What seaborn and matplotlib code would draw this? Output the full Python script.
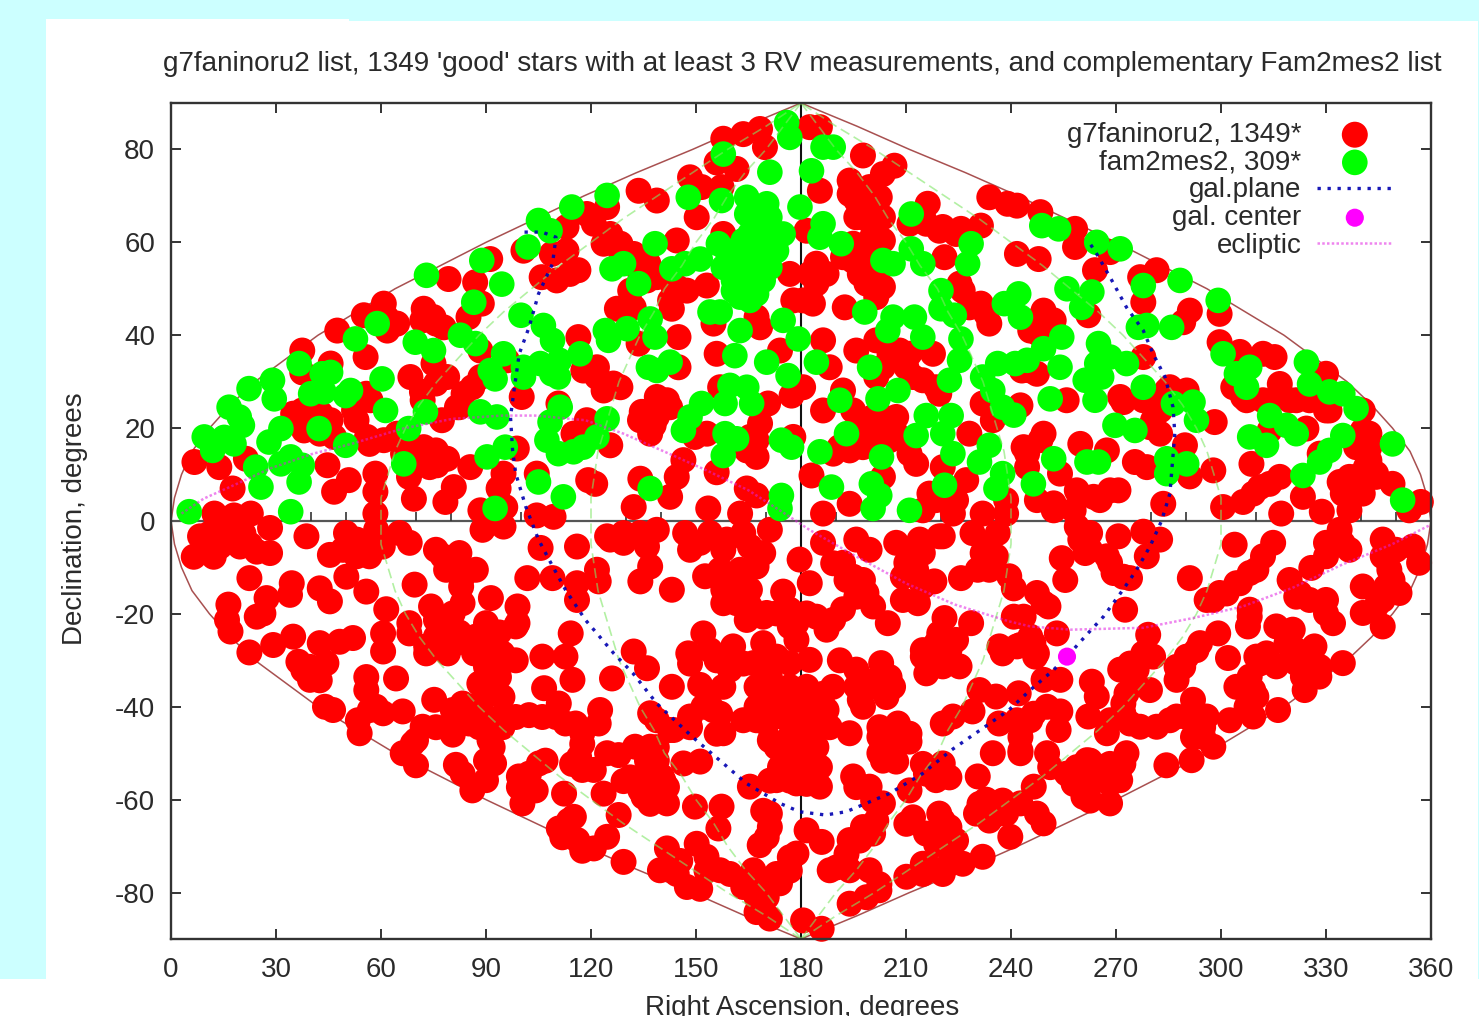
import numpy as np
import pandas as pd
import matplotlib
matplotlib.use("Agg")
import matplotlib.pyplot as plt
from matplotlib.patches import Rectangle
import seaborn as sns

title = "g7faninoru2 list, 1349 'good' stars with at least 3 RV measurements, and complementary Fam2mes2 list"
xticks = list(range(0, 361, 30))
yticks = list(range(-80, 81, 20))
zero_ticks = [r for r in range(10, 360, 10) if r % 30]

green_nw = [(114.5,67.6),(105,64.7),(108.3,62.5),(102,59),(88.8,56.1),(73,52.9),(94.5,51),(86.5,47.1),(100,44.3),(106.4,42.1),(109,38.9),(58.9,42.5),(52.7,39.2),(69.8,38.5),(75,36.7),(82.7,40),(87,38.2),(95,36),(91.2,32.4),(92.6,30.6),(100.7,33.1),(100.7,31),(105.5,33.9),(108.8,31.7),(110.7,31),(111,34.6),(116.9,36),(36.6,33.9),(45.6,32),(43.2,31.7),(29,30.3),(29.5,26.3),(22.3,28.5),(39.9,27.4),(43.7,27.8),(51.3,28.1),(49.9,27),(60.3,30.6),(61.3,23.8),(72.7,23.5),(88.4,23.5),(93.1,22.4),(111.2,24.5),(108.3,21.3),(67.9,19.9),(42.3,19.9),(16.6,24.5),(19.5,22.4),(9.5,18.1),(20.4,20.6),(11.9,15.2),(18,16.6),(15.2,18),(31.4,19.9),(28,17),(49.9,16.3),(24.2,11.6),(25.7,7.3),(31.4,12.3),(36.6,8.4),(37.5,12),(34.2,13.8),(66.5,12.3),(90.3,13.8),(95.5,15.9),(105,8.4),(107.4,17.4),(110.7,14.5),(112.1,5.2),(117.8,15.9),(115,14.9),(5.2,2),(34.2,2),(92.6,2.7)]
green_n = [(175.9,85.8),(176.8,82.6),(157.8,79),(186.3,80.5),(189.2,80.5),(183,75.4),(171.1,75.1),(124.6,70.1),(147.8,69.7),(157.3,69),(164.5,69.7),(170.2,68.3),(179.7,67.6),(138.3,59.7),(186.3,64),(185.4,61.1),(191.5,59.7),(129.3,55.4),(126,54.3),(143.1,54.3),(146.9,55.4),(151.2,56.4),(133.6,51.1),(158.8,58.2),(161.6,54.6),(165.4,61.8),(169.2,63.3),(173,60.4),(167.3,58.2),(171.1,54.6),(164.5,50.4),(169.2,51.8),(162.6,48.2),(165.4,47.5),(174.9,61.8),(160.7,51.8),(168.3,66.8),(164.5,66.1),(154,45),(156.9,45),(136.9,43.5),(138.3,39.6),(124.1,41),(125,38.9),(130.3,41.4),(162.6,41),(161.1,35.6),(174.9,43.2),(179.2,39.2),(170.2,34.2),(176.3,31.3),(184.4,34.2),(136.4,33.1),(142.6,34.2),(138.8,32.4),(159.7,29.2),(164.5,28.8),(158.3,25.3),(165.9,25.3),(151.6,25.3),(148.3,22.4),(146.4,19.5),(124.6,22),(121.7,18.1),(158.3,18.8),(161.6,17.7),(157.8,14.1),(174.4,17.4),(177.3,15.9),(185.4,14.9),(193,18.8),(203,13.8),(188.7,7.3),(200.1,8),(202.5,5.5),(200.6,2.7),(211,2.3),(136.9,7),(174.4,5.5),(174,2.7),(191.1,26),(202,26.3),(207.7,28.1),(199.6,33.1),(198.2,45),(211.5,66.1),(211.5,58.6),(203.4,56.1),(206.3,55.4),(214.8,55.4),(220,49.6),(220,45.7),(223.8,44.3),(206.3,43.9),(212.4,43.9),(204.8,41),(214.8,39.6),(225.7,39.2),(225.3,34.6),(222.4,30.3),(228.6,59.7),(227.6,55.4),(231.9,31),(236.2,33.9),(234.8,28.1),(237.6,24.5),(238.1,46.8),(215.8,22.7),(222.9,22.7),(212.9,18.4),(220.5,18.8),(223.4,14.5),(233.8,16.3),(231,12.7),(221,7.7),(235.7,7),(237.6,10.2)]
green_ne = [(248.8,63.6),(253.6,62.9),(264.5,60),(271.2,58.6),(277.8,50.7),(288.3,51.8),(299.2,47.5),(242.2,48.9),(256,50),(260.2,46),(263.1,49.3),(242.7,43.9),(254.5,39.6),(276.4,41.7),(278.8,42.1),(285.9,41.7),(300.6,36),(304.4,31.7),(308.2,33.1),(307.3,28.8),(265,38.2),(268.3,35.3),(273,33.9),(264.5,33.9),(249.3,37.1),(244.6,34.6),(241.2,33.9),(254,33.1),(261.2,30.3),(264,26),(265.9,31),(277.8,28.8),(251.2,26.3),(240.8,22.8),(269.7,20.6),(275.4,19.5),(286.4,25.3),(292,25.6),(293,21.7),(313.9,22.7),(318.7,20.6),(321.5,18.8),(308.2,18.1),(313,16.3),(324.4,34.2),(325.3,29.5),(331,27.8),(334.8,27.4),(338.6,24.2),(334.8,18.4),(331,15.2),(328.2,12.7),(349,16.6),(323.4,9.8),(252.2,13.4),(261.7,12.7),(265,12.7),(246.4,8),(284.5,13.4),(290.2,12.3),(284.5,10.2),(351.9,4.5)]
green_blob = [(163.5,60.4),(169.2,60.4),(165.4,56),(161.6,57.5),(170.2,57.5),(167.3,53.2),(163.5,52.5),(167.3,48.9),(160.7,49.6),(173,58.2),(171.1,65.4),(156.4,59.7),(157.8,54.6)]

red_nw = [(60.8,46.8),(55.1,44.3),(64.6,42.5),(61.8,41),(47.5,41),(37.5,36.7),(37.5,32),(55.6,35.3),(72.2,45.7),(75,43.9),(77.9,41.7),(79.3,52.1),(86.9,51.4),(91.2,56.4),(88.8,46.8),(85,43.9),(100.7,58.2),(105.9,52.5),(110.2,51.8),(114,53.2),(113,58.2),(108.8,57.5),(113,63.3),(118.8,66.1),(116.4,54),(88.4,36.7),(96,34.6),(88.4,31),(75,33.9),(78.9,31),(68.4,31),(71.7,27.8),(83.6,27.4),(81.7,24.5),(45.6,33.9),(100.2,26.7),(110.7,25.3),(116.4,39.6),(117.8,32.4),(57,26),(52.3,23.8),(37.5,23.8),(42.8,23.1),(38,19.5),(45.6,21.7),(46.6,18.1),(56,18.1),(60.8,17.4),(64.6,18.8),(72.2,15.9),(73.2,13.1),(69.4,11.6),(78.9,13.4),(76,12),(85.5,11.6),(77.4,21.7),(98.8,15.6),(6.7,12.7),(13.8,11.6),(21.4,13.4),(17.6,7),(44.7,12),(50.8,8.8),(46.6,6.3),(58.4,10.2),(58.4,6.3),(69.4,4.8),(80.8,7.3),(78.4,4.1),(95,10.2),(93.6,7),(104.5,10.2),(119.2,8.8),(115,18.8),(118.8,21.7),(88.4,2.3),(95.5,3),(104.5,1.2),(109.3,0.9),(12.4,1.6),(18,1.2),(22.8,1.6),(58.4,1.6),(38.7,22.4),(42.5,18.8),(34.9,23.1),(53,21.7),(55.8,27.4),(66.3,14.5),(70.9,13.8),(75.7,15.2),(69,15.2),(68,9.5),(73.9,11.6),(56.7,16.6),(61.5,43.9),(71.8,43.2),(75.7,42.5),(75.7,29.6),(71.9,26),(82.4,24.5),(86.1,28.8)]
red_sw = [(11.2,-2.6),(9.3,-5.5),(6.5,-7.7),(12.2,-7.7),(16,-2),(20.7,-2.7),(19.7,-5.5),(24.5,-6.6),(28.3,-6.9),(28.3,-1.5),(38.7,-3.3),(50,-2.6),(45.4,-7.3),(53,-7.6),(56.7,-4.7),(58.6,-1.9),(65.3,-2.6),(68.2,-4.7),(75.7,-6.2),(82.4,-6.9),(87.1,-10.5),(78.6,-10.5),(82.9,-14.1),(50.1,-12),(55.8,-15.2),(22.4,-12.3),(34.5,-13.4),(34,-15.9),(27.3,-16.6),(24.5,-20.6),(16.4,-18),(16,-21.3),(17,-23.8),(42.5,-14.5),(45.4,-17.3),(69.6,-13.7),(74.3,-18.4),(91.4,-16.6),(99,-18.4),(99,-22),(101.8,-12.3),(109,-12.3),(105.6,-5.8),(116,-5.5),(116,-13.4),(116,-17),(89,-1.9),(95,-1.2),(61.5,-19),(60.6,-24.2),(60.6,-28.1),(68.1,-22),(72.9,-28.5),(79.1,-28.5),(77.6,-24),(82.4,-24),(90,-22),(93.8,-24),(98.5,-30),(90,-27),(86.6,-28.5),(91.9,-31.4),(98.5,-22.7),(114.2,-24.2),(106.1,-29.2),(112.7,-29.2),(114.7,-34.2),(106.6,-36),(22.4,-28.3),(29.2,-26.7),(34.9,-24.9),(36.4,-30.3),(39.7,-34.2),(44.4,-30.6),(42.5,-26.3),(48.2,-26),(52,-25.2),(44,-40),(46.3,-40.7),(55.8,-36.4),(56.8,-40.7),(64.3,-33.9),(53.9,-45.7),(53.4,-42.9),(60.6,-41.4),(66.2,-41),(71.9,-44.3),(69.1,-47.9),(66.2,-50),(70,-52.6),(75.2,-38.5),(80.5,-40.7),(80.5,-46),(85.2,-43.6),(90,-35.7),(90,-42.2),(94.7,-42.2),(91,-47.2),(92.3,-52.2),(81.4,-52.5),(83.3,-54.4),(86.1,-58),(90,-55.8),(99.4,-55),(105.1,-52.2),(104.2,-58),(100.4,-60.8),(112.3,-58.7),(110.8,-66.2),(115.1,-63.7),(116.1,-68.7),(117.5,-45.7),(102.3,-41.8),(110,-42.2),(115.6,-43.6),(116.6,-50.8),(117.5,-53.6),(110.8,-39.3),(8.3,-3.3),(14,-5.5),(22.6,-5.1),(49.1,-6.2),(56.7,-7.6),(53,-4),(60.5,-5.5),(77.6,-7.6),(81.4,-9.1),(83.3,-12),(83.3,-17.7),(80.5,-19.9),(75.7,-21.3),(79.5,-22.8),(81.4,-26.3),(75.7,-24.9),(72.9,-27),(68.1,-24.2),(87.1,-24.9),(90.9,-26.4),(94.7,-28.5),(90,-31.4),(93.7,-33.6),(88.1,-35),(91.9,-37.2),(94.7,-37.9),(83.3,-39.3),(81.4,-42.9),(86.2,-40),(88.1,-44.4),(94.7,-44.4),(91.9,-48.7),(90,-51.6),(98.5,-42.2),(106.1,-42.2),(112.7,-43.6),(117.5,-48),(114.6,-52.3),(70,-47.2),(75.7,-44.4),(58.6,-40),(55.8,-33.6),(39.7,-31.4),(42.5,-34.3),(37.8,-32.1),(26.4,-19.9),(99.4,-57.3),(102.3,-54.4),(107,-51.6),(113.7,-64.5),(111.8,-68.1),(117.5,-71)]
red_n = [(124.6,67.6),(133.6,71.1),(138.8,69),(148.3,74),(150.2,65.4),(151.6,71.9),(157.8,82.3),(163.5,83.3),(168.3,84.4),(169.7,80.5),(155.9,77.2),(161.6,75.8),(157.3,71.9),(182.5,84.8),(185.4,84.8),(197.7,78.7),(206.7,76.5),(185.4,71.1),(193.9,73.3),(199.6,71.9),(203.4,74.7),(195.8,69),(202.5,69.7),(197.7,65.4),(203.4,65.4),(216.2,68.3),(233.8,69.7),(239,68.3),(231.4,63.6),(225.7,62.9),(220.5,63.3),(215.8,64),(211,64),(157.8,61.8),(144.5,60.4),(120.8,64),(123.6,59.7),(128.4,59.7),(132.2,57.5),(136.4,55.4),(138.8,52.5),(131.2,49.6),(127.4,45.7),(132.2,46),(143.6,50.4),(143.1,45.7),(147.4,49.6),(153.1,50.7),(181.6,62.5),(184.4,55.4),(184.4,51.1),(177.8,47.5),(183.4,46.8),(176.8,53.2),(192,56.8),(198.7,59.7),(203.4,60.4),(198.7,55.4),(198.7,51.1),(201.5,48.2),(192.5,46),(221,56.8),(225.3,51.1),(231.4,46.8),(233.8,42.5),(168.3,41.7),(167.3,43.9),(155,42.5),(145,39.6),(133.6,38.2),(186.3,38.9),(155.9,36),(174,36.7),(188.2,33.1),(180.6,28.8),(177.3,27),(145,33.1),(121.7,33.1),(128.4,28.8),(123.6,28.1),(156.9,28.8),(170.6,25.3),(138.8,26.7),(142.6,24.5),(134.5,23.5),(137.9,20.6),(186.3,23.8),(192,28.1),(195.8,36.7),(201.5,38.9),(208.2,36.7),(217.7,36),(210.1,33.1),(203.4,33.1),(214.8,30.3),(219.5,27.4),(201.5,31),(194.9,23.8),(200.6,22.4),(207.2,22.4),(199.6,18.8),(205.3,17.4),(211,14.5),(193.9,15.2),(189.2,14.5),(231.9,25.3),(234.8,21.7),(228.1,18.8),(168.3,21),(167.3,13.8),(164.5,15.2),(177.8,18.1),(153.1,18.8),(149.7,18.1),(125.5,16.3),(121.2,8),(146.4,13.1),(144.5,9.5),(134.1,9.1),(142.6,5.2),(132.2,3),(155.9,10.5),(153.5,2.7),(164.5,7),(167.3,5.5),(162.6,1.6),(183,9.8),(203.4,9.5),(224.3,4.5),(216.7,5.9),(220.5,11.6),(227.2,8.8),(223.4,1.6),(231.9,1.6),(238.6,1.6),(186.3,1.6),(193.9,3.7),(193.9,70.4),(200.6,67.6),(195.8,65.4),(200.6,61.8),(194.9,59.7),(201.5,52.5),(196.8,53.2),(203.4,50.4),(194.9,56),(182.5,53.2),(180.6,47.5),(187.3,53.2),(214.8,66),(224.3,61.8),(219.5,62.5),(226.2,49.6),(228.1,46),(232.9,44.6),(136.9,23.8),(141.7,26),(134,21.7),(138.8,22.4),(136.9,18.8),(205.3,36),(211,36),(212,31),(218.6,28.8),(197.7,21.7),(203.4,22.4),(207.2,18.8),(202.4,18.8),(197.7,15.9),(191,15.9),(210.1,17.4),(212.9,12.3),(218.6,4.5),(214.8,2.3),(238.6,4.5),(221.5,5.9),(165.4,18.1),(167.3,17.4),(144.5,50.4),(142.6,47.5),(128.4,58.2),(134.1,53.2),(136,51.8),(125.5,61.8),(121.7,31),(126.4,29.6)]
red_ne = [(241.7,67.9),(248.4,66.5),(258.3,62.9),(258.3,59),(268.3,57.9),(264,54),(281.6,54),(276.9,52.5),(277.8,47.1),(291.1,45.3),(289.2,42.8),(299.6,44.6),(241.7,57.5),(247.9,56.4),(262.1,44.3),(248.4,43.9),(252.2,43.2),(247.9,40.3),(299.6,38.5),(305.4,36.4),(312,36),(315.3,35.3),(277.8,35.3),(316.8,29.5),(303.5,28.8),(307.3,26),(321.5,26),(330,31.7),(340.5,23.8),(331,23.8),(340.5,19.5),(342.4,15.9),(341.4,11.6),(298.2,21.3),(284.5,28.1),(290.2,28.1),(272.1,25.6),(281.6,25.6),(279.7,20.2),(282.6,18.8),(255.9,26),(242.7,24.9),(245.5,32.4),(249.3,18.8),(244.6,14.5),(259.8,16.6),(267.4,15.2),(254,10.2),(275.4,12.7),(278.8,11.6),(289.7,16.3),(291.1,9.6),(297.8,10.9),(308.7,12.3),(313.9,19.5),(324.4,19.9),(328.2,14.5),(259.3,5.9),(270.7,6.6),(265.4,4.5),(247.4,4.5),(252.2,2.3),(257.9,2.3),(283.5,3.7),(300.6,3),(306.3,4.1),(311.1,7.3),(316.8,9.5),(323.4,5.2),(333.9,8.4),(338.6,9.5),(344.3,10.2),(349,8),(317.2,1.6),(328.8,2),(336.7,2.3),(357.1,4.1),(353.8,2.3),(248.4,43.1),(245.5,41),(249.3,45.3),(243.1,32.4),(247.4,31.7),(271.2,26.7),(280.6,21.7),(282.6,23.8),(277.8,26),(285.4,28.8),(338.6,15.9),(342.4,18.8),(342.4,13),(344.3,9.5),(336.7,9.5),(330,23.8),(325.3,26),(306.3,26.7),(312,26),(316.8,27.4),(319.6,26),(248.4,17.4),(243.6,15.9),(244.6,11.6),(258.8,6.6),(263.6,5.2),(268.3,6.6),(252.2,3.8),(309.2,5.9),(313.9,8),(334.8,5.9),(340.5,5.9)]
red_s = [(124.6,-3.3),(129.3,-4.7),(134,-2.6),(138.8,-1.9),(146.9,-2.6),(148.3,-6.2),(154,-2.6),(158.8,-4),(163.5,-2.6),(171.1,-1.9),(169.2,-6.9),(136.9,-9.8),(134.1,-13),(143.1,-14.8),(122.2,-13),(121.7,-10.5),(152.6,-11.9),(156.9,-10.5),(162.6,-10.5),(167.3,-9.8),(157.8,-14.8),(161.6,-17.7),(165.4,-14.8),(164.5,-21.3),(170.2,-19.8),(174.9,-15.2),(176.8,-19.1),(176.8,-22.7),(182.5,-13.4),(179.6,-8.3),(186.3,-4.7),(189.2,-9.1),(195.8,-4),(199.6,-6.2),(193,-12.7),(198.7,-15.5),(200.6,-18.4),(204.8,-22),(209.1,-17),(213.4,-17.7),(218.1,-13),(225.7,-12.3),(230.5,-10.5),(210.1,-9),(207.2,-4.7),(213.9,-4),(212.9,-10.5),(219.5,-3.3),(229,-2.6),(232.9,-5.5),(236.2,-2.6),(239.5,-11.9),(221,-20.9),(228.6,-22),(224.3,-25.6),(219.5,-24.2),(214.8,-29.2),(215.8,-32.8),(220.5,-31.3),(225.3,-31.3),(236.7,-27),(237.6,-28.5),(192,-19),(187.3,-23.4),(184.4,-20.6),(189.2,-21.3),(152.1,-24.2),(147.8,-28.5),(154,-27.8),(160.6,-27),(169.2,-26.3),(178.7,-25.6),(182.5,-29.9),(176.8,-30.6),(166.4,-30.6),(159.7,-32),(151.2,-35.3),(157.8,-35.7),(143.1,-35.7),(132.2,-28.1),(136,-31.7),(126,-33.9),(171.1,-33.5),(173,-37.8),(178.7,-37.8),(184.4,-37.8),(187.3,-40.7),(167.3,-42.9),(174.9,-42.2),(180.6,-42.9),(186.3,-44.3),(171.1,-47.2),(176.8,-46.5),(181.6,-47.9),(175.9,-51.5),(183.4,-52.9),(173,-55.8),(178.7,-56.5),(185.4,-57.2),(163.5,-42.9),(157.8,-45.7),(154.9,-40.7),(148.3,-42.1),(142.6,-45),(136.9,-41.4),(154,-37.1),(191.1,-30),(195.8,-32),(202.9,-30.6),(206.3,-35.7),(189.1,-35.7),(196.8,-38.5),(201.5,-34.2),(207.7,-43.6),(202.4,-46.5),(211,-47.5),(202.4,-50),(207.2,-51.8),(193.9,-45.7),(122.6,-40.7),(122.2,-43.6),(124.6,-50),(127.9,-50.4),(132.6,-48.6),(136.9,-48.6),(146.4,-52.2),(151.2,-51.8),(140.2,-55),(129.3,-56),(123.6,-58.7),(135,-59.4),(141.7,-60.8),(136,-54.4),(120.8,-53.6),(127.9,-63.3),(149.7,-61.5),(157.3,-61.5),(156.4,-66.2),(124.6,-68),(120.8,-70.5),(129.3,-73.4),(141.7,-70.5),(150.2,-69.5),(153,-72.3),(139.7,-75.2),(147.4,-78.8),(151.2,-79.2),(156.9,-75.2),(159.7,-76),(166.4,-75.2),(163.5,-78.8),(170.2,-81),(167.3,-84.2),(171.1,-85.6),(175.9,-75.2),(178.7,-71.6),(165.4,-57.2),(171.1,-63),(171.1,-65.9),(168.2,-69.8),(181.6,-66.6),(185.9,-69.1),(188.2,-75.2),(193.9,-75.2),(193.9,-68.7),(194.9,-55),(199.6,-57.2),(197.7,-65.9),(200.6,-67.3),(203.4,-60.8),(211,-58),(215.7,-54.4),(220.5,-52.2),(218.6,-55.8),(199.6,-75.2),(202.4,-79.5),(193.9,-82.4),(198.7,-81),(180.6,-86),(185.9,-87.8),(210.1,-76.6),(216.7,-74.5),(222.4,-73.8),(210.1,-65.2),(215.7,-67.3),(219.5,-63),(222.4,-65.9),(220.5,-68.7),(230,-63),(232.9,-60),(236.7,-63),(231.9,-72.3),(234.8,-50),(230.5,-55),(220.5,-43.6),(229,-41),(223.4,-42.1),(231,-36.4),(235.7,-37.8),(236.6,-43.6)]
red_s_dense = [(159.7,-12),(163.5,-14.1),(157.8,-17.7),(165.4,-18.4),(169.2,-20.6),(173,-19.9),(181.6,-19.9),(178.7,-22),(167.3,-35.7),(172,-35.7),(176.8,-35.7),(181.6,-35.7),(186.3,-37.2),(167.3,-40),(172,-40),(176.8,-40),(181.6,-40),(186.3,-40.7),(170.2,-43.6),(178.7,-44.4),(183.4,-44.4),(188.2,-44.4),(173,-48.7),(178.7,-48.7),(184.4,-48.7),(174,-53),(179.6,-53),(185.4,-53),(171.1,-55.9),(181.6,-56.6),(176.8,-55.9),(148.3,-30.7),(155.9,-30),(159.7,-30),(163.5,-30.7),(169.2,-30),(173,-29.2),(138.8,-42.9),(143.6,-45),(148.3,-44.4),(156.9,-41.5),(155.9,-45.8),(152.1,-40),(136,-51.6),(138.8,-51.6),(140.7,-55.9),(134.1,-58),(138.8,-59.5),(141.7,-57.3),(136.9,-60.9),(131.2,-55.2),(138.8,-48.7),(195.8,-35.7),(200.6,-35.7),(205.3,-33.6),(197.7,-40),(204.4,-37.9),(202.4,-44.4),(205.3,-47.2),(211,-45.8),(203.4,-51.6),(214.8,-27.8),(218.6,-26.4),(220.5,-30),(222.4,-27.8),(192,-9),(194.9,-12),(197.7,-12.7),(195.8,-16.3),(211,-6.9),(214.8,-6.9),(220.5,-3.3),(209.1,-12),(214.8,-14.1),(231.9,-6.9),(235.7,-7.6),(233.8,-10.5),(125.5,-4),(129.3,-2.6),(136,-5.5),(151.2,-4.7),(157.8,-6.2),(165.4,-5.5),(174,-78),(170.2,-78),(167.3,-81),(176.8,-72.4),(176.8,-75.3),(173,-76),(153,-75.3),(145.5,-73.2),(144.5,-76),(202.4,-78.2),(214.8,-76),(220.5,-76),(214.8,-73.8),(226.2,-73.8),(220.5,-64.5),(224.3,-68.8),(218.6,-69.6),(212,-63.8),(231,-60.9),(233.8,-64.5),(237.6,-60.2),(238.6,-63),(218.6,-53.7),(214.8,-52.3),(222.4,-55.2),(193,-71.7),(190.1,-74.6),(196.8,-68.8),(201.5,-64.5),(195.8,-57.3),(200.6,-60.2),(169.2,-62.4),(170.2,-68.1)]
red_se = [(258.8,-1.2),(262.6,-2.6),(270.7,-3.3),(277.8,-2.3),(282.6,-4),(278.8,-7.6),(254.5,-8),(255.5,-12.7),(261.2,-6.9),(267.4,-7.6),(269.3,-11.2),(274,-12.3),(272.6,-19.1),(303.9,-5.1),(314.9,-4.7),(312,-7.6),(308.2,-11.2),(304.4,-13.4),(299.6,-15.5),(295.9,-17),(291.1,-12.3),(307.7,-22.7),(308.2,-19.1),(240.8,-14.5),(240.8,-20.6),(247.4,-15.5),(250.7,-18.4),(253.1,-24.2),(246.4,-26.3),(246.9,-29.2),(242.7,-26.7),(319.6,-12.7),(325.8,-10.1),(321.5,-16.3),(330,-17),(332,-22),(330,-4.7),(336.7,-6.2),(333.9,-1.9),(346.2,-4),(346.2,-7.6),(348.1,-10.5),(356.6,-9),(354.8,-5.5),(340.5,-14.1),(340.5,-19.8),(346.2,-22.7),(351,-15.5),(346.2,-17),(315.8,-22.7),(320.5,-23.4),(326.7,-27),(321.5,-27.8),(310.1,-29.2),(315.8,-31.3),(321.5,-30.6),(334.8,-30.6),(328.1,-33.5),(323.9,-36.4),(302,-29.5),(299.2,-24.2),(294,-26.3),(290.2,-29.2),(287.3,-34.2),(279.2,-24.5),(280.6,-29.2),(271.2,-32),(275.9,-32),(279.7,-36.4),(273,-37.1),(263.1,-34.6),(264.5,-37.8),(254.1,-34.2),(249.3,-34.2),(242.2,-37.1),(245.5,-42.9),(250.3,-40),(254.1,-41),(253.6,-45),(262.1,-42.1),(267.4,-45.7),(272.1,-41.4),(276.9,-44.3),(281.6,-44.3),(287.3,-42.1),(292,-38.5),(295.9,-42.1),(302.5,-42.9),(304.4,-35.7),(310.1,-37.8),(309.2,-42.1),(316.3,-40.7),(297.8,-48.6),(292,-46.5),(291.6,-51.5),(284.4,-52.6),(242.7,-50),(242.7,-46.5),(250.3,-50),(255.9,-54.4),(261.7,-51.5),(266.4,-52.9),(273,-50),(271.2,-55.8),(260.7,-59.4),(268.3,-60.8),(264.5,-55.8),(246.5,-57.2),(242.7,-60.8),(249.3,-65.1),(247.4,-63),(239.8,-68),(259.8,-4),(262.6,-6.2),(268.3,-9),(272.1,-12),(249.3,-17.7),(243.6,-20.6),(245.5,-24.9),(241.7,-27),(247.4,-28.5),(310.1,-10.5),(305.4,-13.4),(301.6,-15.6),(297.8,-17),(308.2,-20.6),(322.5,-15.6),(325.3,-17),(330,-19.9),(334.8,-4.8),(330,-7.6),(347.2,-14.1),(344.3,-18.4),(349,-12.7),(350,-6.2),(311,-30.7),(313,-28.5),(318.7,-26.3),(320.5,-29.2),(325.3,-30.7),(323.4,-33.5),(328.2,-31.4),(308.2,-33.5),(309.2,-36.4),(307.3,-40),(293,-27.8),(289.2,-31.4),(287.3,-31.4),(274,-30.7),(277.8,-28.5),(275,-35),(272.1,-39.3),(268.3,-42.9),(274,-43.6),(285.4,-42.9),(290.2,-42.2),(294.9,-44.4),(294.9,-46.5),(258.8,-53),(262.6,-51.6),(268.3,-52.3),(263.6,-55.9),(268.3,-56.6),(272.1,-52.3),(257.9,-56.6),(262.6,-60.2),(241.7,-42.9),(246.5,-41.5),(242.7,-49.4),(251.2,-53)]

gal_ra = [101,106,110,109,105,102.3,99.5,98,97,97.6,98.5,101.4,105,108,112.7,118.4,120,126.5,132,138.8,149,157.8,164.4,174,179.6,187,192.9,205.2,214.7,223,231.8,239.4,245.5,252.1,256,261.6,266.4,272,275.9,279.7,283,285.4,286.8,286.3,284,280.6,277.8,273,268.3,264.5,262.6]
gal_dec = [62.2,62.2,61.1,55.4,48.9,41.7,36,28.1,22.4,15.2,10.2,3,-4,-8.3,-14.8,-21.3,-22.7,-28.5,-32.8,-39.3,-46.5,-52.2,-56.5,-60.8,-62.6,-63.3,-62.6,-58.7,-54.4,-49.3,-44.7,-40.7,-36.4,-32.1,-29.2,-24.5,-20.6,-14.8,-10.5,-5.5,0,5.9,18.8,24.5,31,36,41,46,52.5,57.5,59.7]
ecl_ra = [3,9.3,18.8,28.3,40.6,52,66.2,80.5,94.7,104,118.4,129.3,143.5,153,165,176.8,182.4,195.7,209.9,224,239.4,245.5,257,277.8,292,306.2,320.4,334.6,348.9,359.4]
ecl_dec = [1.6,4.8,8,11.3,14.5,16.7,19.9,22,22.7,22.7,21.7,18.8,14.1,10.9,6.6,0.9,-1.9,-7.6,-13.4,-18,-21.6,-22.7,-23.4,-23,-20.9,-18.4,-14.4,-9.4,-5,-1]
center_ra = [256]
center_dec = [-29.2]

grid_dec = [-90,-85,-80,-75,-70,-65,-60,-55,-50,-45,-40,-35,-30,-25,-20,-15,-10,-5,0,5,10,15,20,25,30,35,40,45,50,55,60,65,70,75,80,85,90]
outer_left = [180,164,149,133,118,104,90,77,64,53,42,33,24,17,11,6,3,1,0,1,3,6,11,17,24,33,42,53,64,77,90,104,118,133,149,164,180]
mid_left = [180,170,159,149,139,129,120,111,103,95,88,82,76,71,67,64,62,60,60,60,62,64,67,71,76,82,88,95,103,111,120,129,139,149,159,170,180]
inner_left = [180,175,170,164,159,155,150,146,141,138,134,131,128,126,124,122,121,120,120,120,121,122,124,126,128,131,134,138,141,146,150,155,159,164,170,175,180]
outer_right = [360-v for v in outer_left]
mid_right = [360-v for v in mid_left]
inner_right = [360-v for v in inner_left]

def frame(points):
    a = np.array(points)
    return pd.DataFrame({"ra": a[:, 0], "dec": a[:, 1]})

red = frame(red_nw + red_sw + red_n + red_ne + red_s + red_s_dense + red_se)
green = frame(green_nw + green_n + green_ne + green_blob)

sns.set_theme(style="white")
plt.rcParams["font.family"] = ["Liberation Sans", "DejaVu Sans"]
plt.rcParams["axes.unicode_minus"] = False
W, H = 1479, 1016
ink = "#2a2a2a"
fig = plt.figure(figsize=(W / 100, H / 100), dpi=100, facecolor="#ccffff")
fig.patches.append(Rectangle((46 / W, 0), (1478 - 46) / W, 1 - 21 / H, transform=fig.transFigure, facecolor="white", edgecolor="none", zorder=-5))
fig.patches.append(Rectangle((0, 0), 1, (H - 979) / H, transform=fig.transFigure, facecolor="white", edgecolor="none", zorder=-5))
fig.patches.append(Rectangle((46 / W, 1 - 21 / H), 303 / W, 2 / H, transform=fig.transFigure, facecolor="white", edgecolor="none", zorder=-5))
ax = fig.add_axes([171 / W, 1 - 939 / H, 1260 / W, 836 / H])
ax.set_facecolor("white")
ax.set_xlim(0, 360)
ax.set_ylim(-90, 90)

ax.axhline(0, color="#555555", lw=1.6, zorder=1)
ax.axvline(180, color="#111111", lw=1.5, zorder=1)
ax.vlines(zero_ticks, 0, 1.9, color="#333333", lw=1.2, zorder=1)
for side in (outer_left, outer_right):
    sns.lineplot(x=side, y=grid_dec, sort=False, estimator=None, color="#a85050", lw=1.1, ax=ax, zorder=1.5)

sns.scatterplot(data=red, x="ra", y="dec", s=350, color="#ff0000", edgecolor="none", linewidth=0, ax=ax, zorder=2, label="g7faninoru2, 1349*", clip_on=False)
sns.scatterplot(data=green, x="ra", y="dec", s=340, color="#00ff00", edgecolor="none", linewidth=0, ax=ax, zorder=3, label="fam2mes2, 309*", clip_on=False)

for side in (mid_left, mid_right, inner_left, inner_right):
    sns.lineplot(x=side, y=grid_dec, sort=False, estimator=None, color="#80e666", alpha=0.6, lw=1.2, linestyle=(0, (6, 3)), ax=ax, zorder=4)

sns.lineplot(x=gal_ra, y=gal_dec, sort=False, estimator=None, color="#0000b0", alpha=0.9, lw=2.4, linestyle=(0, (1, 2)), ax=ax, zorder=5, label="gal.plane")
sns.scatterplot(x=center_ra, y=center_dec, s=170, color="#ff00ff", edgecolor="none", linewidth=0, ax=ax, zorder=6, label="gal. center")
sns.lineplot(x=ecl_ra, y=ecl_dec, sort=False, estimator=None, color="#e020e0", alpha=0.55, lw=1.8, linestyle=(0, (1, 0.9)), ax=ax, zorder=5, label="ecliptic")

ax.set_xticks(xticks)
ax.set_yticks(yticks)
ax.tick_params(axis="both", which="both", direction="in", length=7.5, width=1.4, color="#333333", top=True, right=True, bottom=True, left=True, labelsize=20, labelcolor=ink)
ax.tick_params(axis="y", pad=11.5)
ax.tick_params(axis="x", pad=13)
for spine in ax.spines.values():
    spine.set_color("#333333")
    spine.set_linewidth(1.7)
    spine.set_visible(True)
    spine.set_zorder(7)

ax.set_xlabel("")
ax.set_ylabel("")
fig.text(802 / W, 1 - 1008 / H, "Right Ascension, degrees", ha="center", va="center", fontsize=20, color=ink)
fig.text(75 / W, 1 - 519 / H, "Declination, degrees", ha="center", va="center", rotation=90, fontsize=20, color=ink)
fig.text(802 / W, 1 - 64 / H, title, ha="center", va="center", fontsize=20.1, color=ink)

handles, labels = ax.get_legend_handles_labels()
ax.legend(handles, labels, loc="upper right", bbox_to_anchor=((1393 - 171) / 1260, 1 - 19 / 836), bbox_transform=ax.transAxes,
          frameon=False, markerfirst=False, fontsize=20, labelspacing=0.06, handlelength=2.75, handletextpad=0.54, borderpad=0, borderaxespad=0, labelcolor=ink)
fig.savefig("out.png", dpi=100, facecolor=fig.get_facecolor())
